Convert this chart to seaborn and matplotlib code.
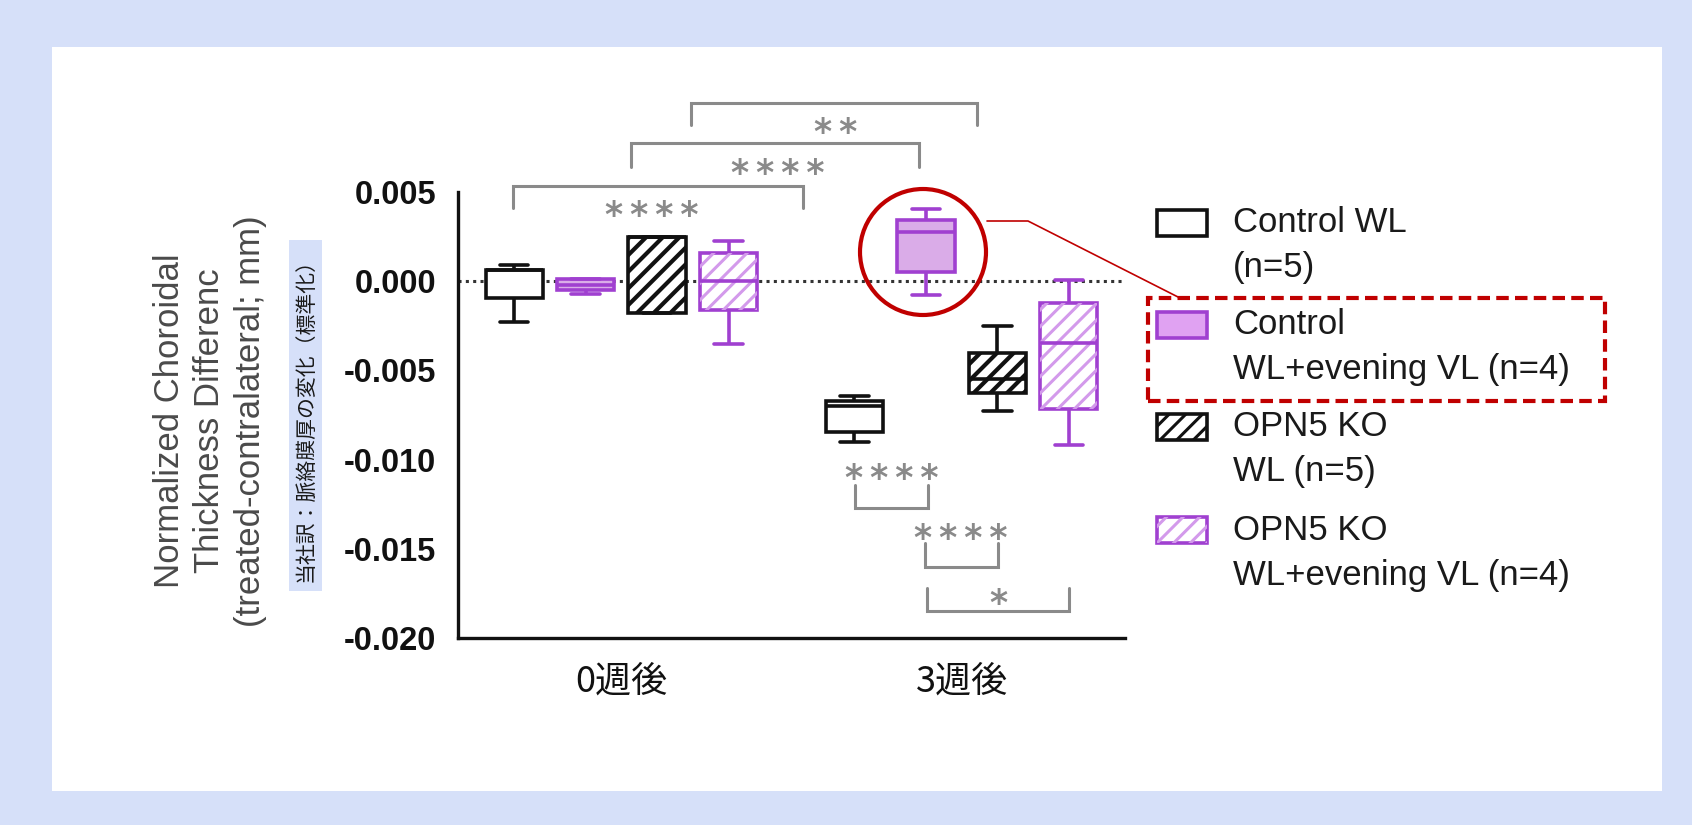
import numpy as np
import pandas as pd
import matplotlib
matplotlib.use('Agg')
import matplotlib.pyplot as plt
import seaborn as sns
from matplotlib.patches import Rectangle, Ellipse, PathPatch
from matplotlib.lines import Line2D

W, H = 1692, 825

weeks = ['0週後', '3週後']
groups = ['Control WL', 'Control WL+VL', 'OPN5 KO WL', 'OPN5 KO WL+VL']
legend_lines = [('Control WL', '(n=5)'),
                ('Control', 'WL+evening VL (n=4)'),
                ('OPN5 KO', 'WL (n=5)'),
                ('OPN5 KO', 'WL+evening VL (n=4)')]

# five-number summaries: min, q1, median, q3, max
ctrl_wl_0 = [-0.0023, -0.00096, 0.0006, 0.0006, 0.0009]
ctrl_vl_0 = [-0.0007, -0.0005, -0.0002, 0.0001, 0.0001]
ko_wl_0 = [-0.0018, -0.0018, 0.0025, 0.0025, 0.0025]
ko_vl_0 = [-0.0035, -0.0016, 0.0000, 0.00156, 0.00225]
ctrl_wl_3 = [-0.0090, -0.00847, -0.0070, -0.00672, -0.00643]
ctrl_vl_3 = [-0.00077, 0.0005, 0.00278, 0.00343, 0.00403]
ko_wl_3 = [-0.0073, -0.00628, -0.0055, -0.00404, -0.00251]
ko_vl_3 = [-0.0092, -0.00718, -0.00348, -0.0012, 0.00007]

y_ticks = [-0.020, -0.015, -0.010, -0.005, 0.000, 0.005]

# significance brackets: x1, x2, bar y, tip y, label, label x, label y
brackets = [
    (0.206, 1.044, 0.00999, 0.00876, '**', 0.629, 0.00892),
    (0.029, 0.876, 0.00775, 0.00640, '****', 0.459, 0.00663),
    (-0.318, 0.535, 0.00534, 0.00410, '****', 0.090, 0.00427),
    (0.688, 0.900, -0.01271, -0.01142, '****', 0.794, -0.01047),
    (0.891, 1.106, -0.01602, -0.01467, '****', 0.997, -0.01383),
    (0.897, 1.315, -0.01849, -0.01720, '*', 1.109, -0.01748),
]

rows = []
for g, w, vals in [(groups[0], weeks[0], ctrl_wl_0), (groups[1], weeks[0], ctrl_vl_0),
                   (groups[2], weeks[0], ko_wl_0), (groups[3], weeks[0], ko_vl_0),
                   (groups[0], weeks[1], ctrl_wl_3), (groups[1], weeks[1], ctrl_vl_3),
                   (groups[2], weeks[1], ko_wl_3), (groups[3], weeks[1], ko_vl_3)]:
    for v in vals:
        rows.append({'group': g, 'week': w, 'value': v})
df = pd.DataFrame(rows)

sns.set_theme(style='white')
plt.rcParams['font.family'] = ['Liberation Sans', 'Noto Sans CJK JP', 'DejaVu Sans']
plt.rcParams['hatch.linewidth'] = 2.2

BLACK = '#111111'
PURPLE = '#A040D0'
PURPLE_FILL = '#E0A2F2'
PURPLE_HATCH = '#D39AEB'
GREY = '#8a8a8a'
RED = '#C00000'

faces = {groups[0]: 'white', groups[1]: PURPLE_FILL, groups[2]: 'white', groups[3]: 'white'}
edges = {groups[0]: BLACK, groups[1]: PURPLE, groups[2]: BLACK, groups[3]: PURPLE}

fig = plt.figure(figsize=(W / 100, H / 100), dpi=100)
fig.patch.set_facecolor('#D6E0F9')
fig.add_artist(Rectangle((52 / W, 1 - 791 / H), (1662 - 52) / W, (791 - 47) / H,
                         transform=fig.transFigure, facecolor='white', edgecolor='none', zorder=-1))

ax = fig.add_axes([458 / W, 1 - 638 / H, (1125 - 458) / W, (638 - 192) / H])
ax.set_facecolor('none')

ax.axhline(0, color='#333333', lw=2.2, ls=(0, (1, 1.4)), zorder=1)

BOX_W = 0.84
sns.boxplot(data=df, x='week', y='value', hue='group', order=weeks, hue_order=groups,
            palette=faces, linecolor=BLACK, linewidth=2.6, width=BOX_W, gap=0.2,
            whis=(0, 100), showfliers=False, legend=False, ax=ax)

slot = BOX_W / len(groups)


def hue_index(xc):
    off = xc - round(xc)
    return int(round((off + BOX_W / 2 - slot / 2) / slot))


# recolour each box by its hue slot
for p in list(ax.patches):
    ext = p.get_path().get_extents()
    g = groups[hue_index((ext.x0 + ext.x1) / 2)]
    p.set_edgecolor(edges[g])
    p.set_zorder(2)
    if g == groups[2]:
        p.set_hatch('//')
        if hasattr(p, 'set_hatch_linewidth'):
            p.set_hatch_linewidth(3.0)
    if g == groups[3]:
        ax.add_patch(PathPatch(p.get_path(), transform=p.get_transform(), facecolor='none',
                               edgecolor=PURPLE_HATCH, hatch='//', lw=0, zorder=2.1))
for ln in ax.lines[1:]:
    xd = np.asarray(ln.get_xdata(), dtype=float)
    g = groups[hue_index(xd.mean())]
    ln.set_color(edges[g])
    ln.set_zorder(3)

for x1, x2, yb, yt, lab, lx, ly in brackets:
    ax.plot([x1, x1, x2, x2], [yt, yb, yb, yt], color=GREY, lw=2.2, clip_on=False,
            solid_joinstyle='miter', zorder=4)
    ax.annotate('\u2009'.join(lab), (lx, ly), xytext=(0, -15), textcoords='offset points',
                ha='center', va='baseline', fontsize=25, fontweight='bold', color=GREY,
                family=['DejaVu Sans'], annotation_clip=False, zorder=4)

ax.set_xlim(-0.48, 1.48)
ax.set_ylim(-0.020, 0.005)
ax.set_yticks(y_ticks)
ax.set_yticklabels([f'{v:.3f}' for v in y_ticks], fontsize=23.5, fontweight='bold', color=BLACK)
ax.set_xticks([0, 1])
ax.set_xticklabels(weeks, fontsize=26, color=BLACK, family=['Noto Sans CJK JP'])
ax.set_xlabel('')
ax.set_ylabel('')
sns.despine(ax=ax)
for s in ['left', 'bottom']:
    ax.spines[s].set_linewidth(2.4)
    ax.spines[s].set_color(BLACK)
ax.tick_params(axis='both', length=12.5, width=2.2, color=BLACK, direction='out')
ax.tick_params(axis='y', pad=3)
ax.tick_params(axis='x', pad=6)

ax.text(-0.372, 0.4865, 'Normalized Choroidal\nThickness Differenc\n(treated-contralateral; mm)',
        transform=ax.transAxes, rotation=90, ha='center', va='center', multialignment='center',
        fontsize=25, color='#4a4a4a', linespacing=1.28)

# translation note
fig.add_artist(Rectangle((289 / W, 1 - 591 / H), 33 / W, 351 / H, transform=fig.transFigure,
                         facecolor='#D6E0F9', edgecolor='none', zorder=2))
fig.text(305.5 / W, 1 - 415.5 / H, '当社訳：脈絡膜厚の変化（標準化）', rotation=90,
         ha='center', va='center', fontsize=15, color='#1a1a1a',
         family=['Noto Sans CJK JP'], zorder=3)

# legend
leg_y = [223, 325, 427, 530]
for i, (g, (l1, l2)) in enumerate(zip(groups, legend_lines)):
    yc = leg_y[i]
    rect = Rectangle((1157 / W, 1 - (yc + 13) / H), 50 / W, 26 / H, transform=fig.transFigure,
                     facecolor=faces[g], edgecolor=edges[g], lw=2.6, zorder=3)
    if g == groups[2]:
        rect.set_hatch('//')
    fig.add_artist(rect)
    if g == groups[3]:
        fig.add_artist(Rectangle((1157 / W, 1 - (yc + 13) / H), 50 / W, 26 / H,
                                 transform=fig.transFigure, facecolor='none',
                                 edgecolor=PURPLE_HATCH, hatch='//', lw=0, zorder=3.1))
    fig.text(1233 / W, 1 - yc / H, l1, ha='left', va='center', fontsize=25, color='#1a1a1a')
    fig.text(1233 / W, 1 - (yc + 45) / H, l2, ha='left', va='center', fontsize=25, color='#1a1a1a')

# highlight
fig.add_artist(Ellipse((923 / W, 1 - 252 / H), 126 / W, 126 / H, transform=fig.transFigure,
                       fill=False, edgecolor=RED, lw=3, zorder=5))
fig.add_artist(Line2D([987 / W, 1028 / W, 1178 / W], [1 - 221 / H, 1 - 221 / H, 1 - 297 / H],
                      transform=fig.transFigure, color=RED, lw=1.2, zorder=5))
fig.add_artist(Rectangle((1148 / W, 1 - 401 / H), 457 / W, 103 / H, transform=fig.transFigure,
                         fill=False, edgecolor=RED, lw=3, ls=(0, (3, 1.5)), zorder=5))

fig.savefig('out.png', dpi=100, facecolor=fig.get_facecolor())
